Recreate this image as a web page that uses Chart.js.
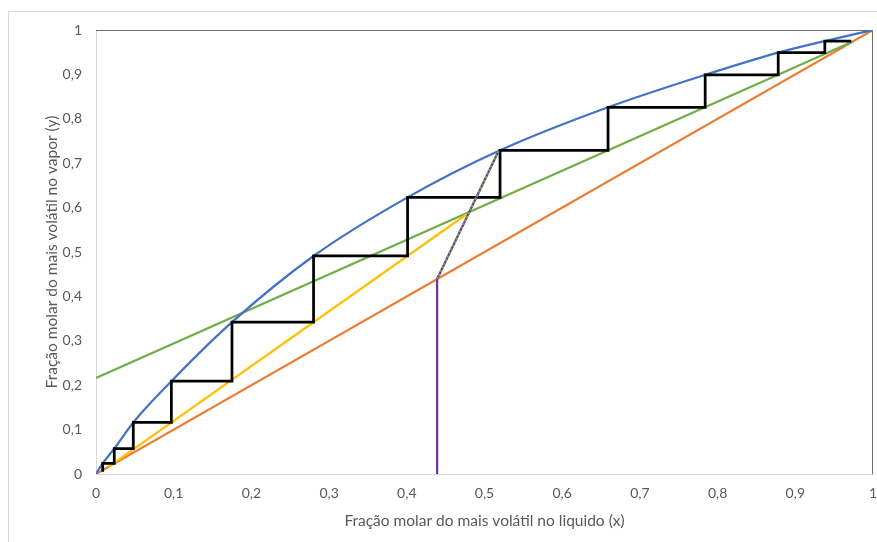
<!DOCTYPE html>
<html>
<head>
<meta charset="utf-8">
<script src="https://cdn.jsdelivr.net/npm/chart.js@4/dist/chart.umd.min.js"></script>
<style>
	html, body { margin: 0; padding: 0; background: #fff; }
	#frame { position: absolute; left: 8px; top: 11px; width: 900px; height: 560px; border: 1px solid #d9d9d9; }
	#wrap { position: absolute; left: 0; top: 0; width: 877px; height: 542px; }
</style>
</head>
<body>
<div id="frame"></div>
<div id="wrap"><canvas id="mccabe" width="877" height="542"></canvas></div>
<script>
// equilibrium curve (blue)
const eqX = [0, 0.0086, 0.0235, 0.048, 0.097, 0.175, 0.28, 0.401, 0.52, 0.659, 0.784, 0.878, 0.938, 1];
const eqY = [0, 0.024, 0.057, 0.116, 0.209, 0.342, 0.491, 0.623, 0.729, 0.826, 0.899, 0.949, 0.975, 1];

// diagonal y = x (orange)
const diagX = [0, 1];
const diagY = [0, 1];

// rectifying operating line (green)
const rectX = [0, 0.974];
const rectY = [0.216, 0.974];

// stripping operating line (yellow)
const stripX = [0.016, 0.477];
const stripY = [0.016, 0.585];

// q-line (purple)
const qX = [0.439, 0.439, 0.518];
const qY = [0, 0.439, 0.727];

// stages (black)
const stairX = [0.972, 0.938, 0.938, 0.878, 0.878, 0.784, 0.784, 0.659, 0.659, 0.52, 0.52, 0.401, 0.401, 0.28, 0.28, 0.175, 0.175, 0.097, 0.097, 0.048, 0.048, 0.0235, 0.0235, 0.0086, 0.0086];
const stairY = [0.975, 0.975, 0.949, 0.949, 0.899, 0.899, 0.826, 0.826, 0.729, 0.729, 0.623, 0.623, 0.491, 0.491, 0.342, 0.342, 0.209, 0.209, 0.116, 0.116, 0.057, 0.057, 0.024, 0.024, 0.005];

// plot frame top/right
const boxX = [0, 1, 1];
const boxY = [1, 1, 0];

const tickLabels = ["0", "0,1", "0,2", "0,3", "0,4", "0,5", "0,6", "0,7", "0,8", "0,9", "1"];

const pts = (xs, ys) => xs.map((x, i) => ({ x: x, y: ys[i] }));

const line = (data, color, width, order, extra) => Object.assign({
	data: data,
	showLine: true,
	borderColor: color,
	backgroundColor: color,
	borderWidth: width,
	pointRadius: 0,
	fill: false,
	order: order,
}, extra || {});

const ctx = document.getElementById("mccabe");

new Chart(ctx, {
	type: "scatter",
	data: {
		datasets: [
			line(pts(boxX, boxY), "#404040", 1.5, 9),
			line(pts(diagX, diagY), "#ED7D31", 2.25, 8),
			line(pts(rectX, rectY), "#70AD47", 2.25, 7),
			line(pts(stripX, stripY), "#FFC000", 2.25, 6),
			line(pts(eqX, eqY), "#4472C4", 2.25, 5, { cubicInterpolationMode: "monotone" }),
			line(pts(stairX, stairY), "#000000", 2.75, 4),
			line(pts(qX, qY), "#7030A0", 2.25, 3),
			line(pts(qX.slice(1), qY.slice(1)), "#70AD47", 2.25, 2, { borderDash: [2, 2] }),
		],
	},
	options: {
		responsive: false,
		animation: false,
		events: [],
		layout: { padding: { left: 40, right: 4, top: 30, bottom: 12 } },
		plugins: { legend: { display: false }, tooltip: { enabled: false } },
		scales: {
			x: {
				type: "linear",
				min: 0,
				max: 1,
				afterFit: (scale) => {
					scale.height = 56;
					scale.paddingLeft = 0;
					scale.paddingRight = 0;
				},
				grid: { display: false, drawTicks: false },
				border: { display: true, color: "#d9d9d9", width: 1 },
				ticks: {
					stepSize: 0.1,
					padding: 11,
					color: "#595959",
					font: { family: "Lato", size: 14 },
					maxRotation: 0,
					autoSkip: false,
					callback: (v, i) => tickLabels[i],
				},
				title: {
					display: true,
					text: "Fração molar do mais volátil no liquido (x)",
					color: "#595959",
					font: { family: "Lato", size: 15.5 },
					padding: { top: 0, bottom: 0 },
				},
			},
			y: {
				type: "linear",
				min: 0,
				max: 1,
				afterFit: (scale) => {
					scale.width = 56;
					scale.paddingTop = 0;
					scale.paddingBottom = 0;
				},
				grid: { display: false, drawTicks: false },
				border: { display: true, color: "#d9d9d9", width: 1 },
				ticks: {
					stepSize: 0.1,
					padding: 14,
					color: "#595959",
					font: { family: "Lato", size: 14 },
					autoSkip: false,
					callback: (v, i) => tickLabels[i],
				},
				title: {
					display: true,
					text: "Fração molar do mais volátil no vapor (y)",
					color: "#595959",
					font: { family: "Lato", size: 15.5 },
					padding: { top: 3, bottom: 0 },
				},
			},
		},
	},
});
</script>
</body>
</html>
